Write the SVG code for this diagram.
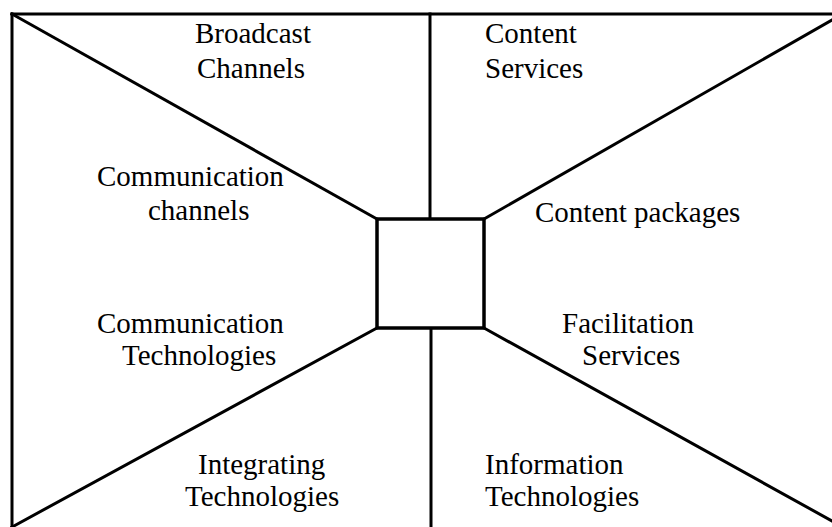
<svg xmlns="http://www.w3.org/2000/svg" width="832" height="527" viewBox="0 0 832 527">
<style>
.ln{stroke:#000;stroke-width:3;fill:none;stroke-linecap:square}
.bx{stroke:#000;stroke-width:3.5;fill:#fff}
.t{font-size:29px;fill:#000}
</style>
<rect width="832" height="527" fill="#fff"/>
<g id="connectors">
<line class="ln" x1="12" y1="14" x2="832" y2="14"/>
<line class="ln" x1="12" y1="14" x2="12" y2="527"/>
<line class="ln" x1="12" y1="14" x2="377" y2="219"/>
<line class="ln" x1="832" y1="20" x2="484" y2="219"/>
<line class="ln" x1="377" y1="328" x2="12" y2="527"/>
<line class="ln" x1="484" y1="328" x2="832" y2="521"/>
<line class="ln" x1="430" y1="14" x2="430" y2="219"/>
<line class="ln" x1="431" y1="328" x2="431" y2="527"/>
</g>
<g id="center">
<rect class="bx" x="377" y="219" width="107" height="109"/>
</g>
<g class="t" font-family="Liberation Serif, DejaVu Serif, serif">
<g id="broadcast"><text x="195" y="43">Broadcast</text><text x="197" y="78">Channels</text></g>
<g id="content-services"><text x="485" y="43">Content</text><text x="485" y="78">Services</text></g>
<g id="comm-channels"><text x="97" y="186">Communication</text><text x="148" y="220">channels</text></g>
<g id="content-packages"><text x="535" y="222">Content packages</text></g>
<g id="comm-tech"><text x="97" y="333">Communication</text><text x="122" y="365">Technologies</text></g>
<g id="facilitation"><text x="562" y="333">Facilitation</text><text x="582" y="365">Services</text></g>
<g id="integrating"><text x="198" y="474">Integrating</text><text x="185" y="506">Technologies</text></g>
<g id="information"><text x="485" y="474">Information</text><text x="485" y="506">Technologies</text></g>
</g>
</svg>
